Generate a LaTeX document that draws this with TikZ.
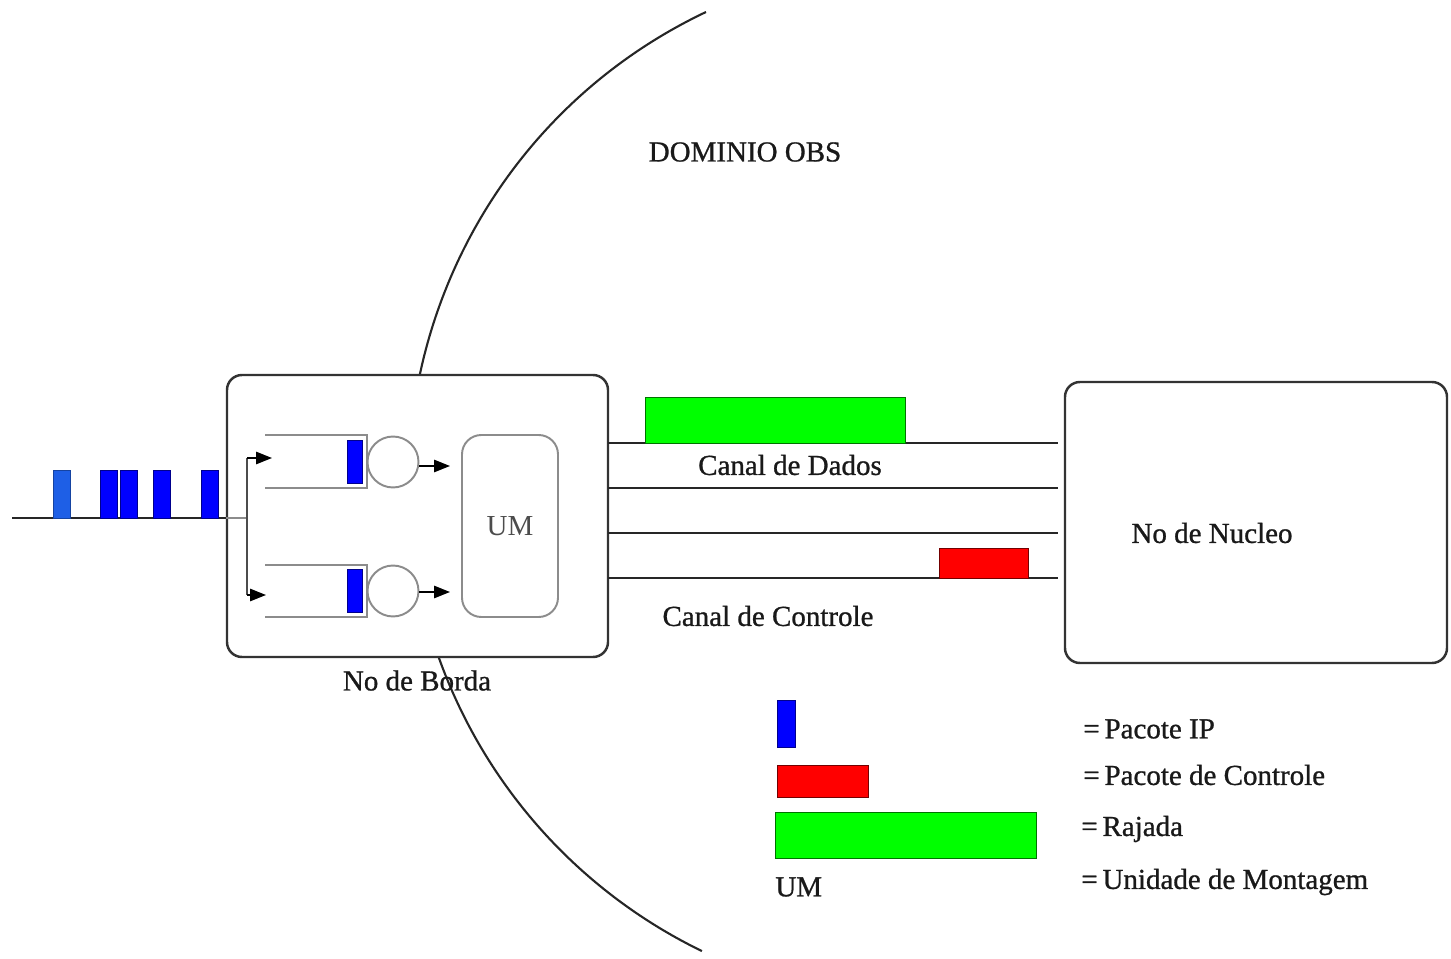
\documentclass[tikz,border=0pt]{standalone}
\usepackage{fontspec}
\setmainfont{Liberation Serif}
\newfontfamily\labelfont{Liberation Serif}[FakeBold=0.9]
\usetikzlibrary{arrows.meta,fit}

\definecolor{ipblue}{RGB}{0,0,255}
\definecolor{ipblue2}{RGB}{30,95,230}
\definecolor{burst}{RGB}{0,255,0}
\definecolor{ctrl}{RGB}{255,0,0}

\begin{document}
\begin{tikzpicture}[x=0.02cm,y=-0.02cm,
  lbl/.style={font=\labelfont\fontsize{16.5}{19}\selectfont, inner sep=0pt, text=black!90},
  nodebox/.style={draw=black!80, line width=1.4pt, rounded corners=8.5pt, fill=white, inner sep=0pt},
  umbox/.style={draw=black!45, line width=1.1pt, rounded corners=11pt, inner sep=0pt},
  chan/.style={draw=black!85, line width=1.4pt},
  qline/.style={draw=black!45, line width=1.1pt},
  ptr/.style={draw=black, line width=0.8pt, -{Triangle[length=9pt,width=7pt]}},
  ippkt/.style={draw=blue!55!black, fill=ipblue, line width=0.5pt, inner sep=0pt},
  burstpkt/.style={draw=green!45!black, fill=burst, line width=0.5pt, inner sep=0pt},
  ctrlpkt/.style={draw=red!45!black, fill=ctrl, line width=0.5pt, inner sep=0pt},
  server/.style={draw=black!45, line width=1.1pt, circle, minimum size=1.02cm, inner sep=0pt},
]
\useasboundingbox (0,0) rectangle (1451,959);

% boundary of the OBS domain
\draw[black!85, line width=1.2pt] (706,12) arc[start angle=115.4, end angle=244.1, radius=10.42cm];
\node[lbl] (dom) at (745,152) {DOMINIO OBS};

% incoming link with IP packets
\coordinate (in) at (12,518);
\node[nodebox, fit={(227,375) (608,657)}] (edge) {};
\draw[black!85, line width=1.4pt] (in) -- (edge.west |- in);
\node[ippkt, fill=ipblue2, draw=ipblue2!70!black, fit={(53,470) (70,518)}] (p1) {};
\node[ippkt, fit={(100,470) (117,518)}] (p2) {};
\node[ippkt, fit={(120,470) (137,518)}] (p3) {};
\node[ippkt, fit={(153,470) (170,518)}] (p4) {};
\node[ippkt, fit={(201,470) (218,518)}] (p5) {};

% splitter inside the edge node
\coordinate (sp) at (247,518);
\coordinate (spt) at (247,458);
\coordinate (spb) at (247,595);
\draw[qline] (edge.west |- sp) -- (sp);
\draw[black!70, line width=0.8pt] (spt) -- (spb);
\draw[ptr] (spt) -- (272,458);
\draw[ptr] (spb) -- (266,595);

% upper queue
\draw[qline] (265,435) -- (367,435) -- (367,488) -- (265,488);
\node[ippkt, fit={(347,440) (362,483)}] (q1) {};
\node[server] (s1) at (393,462) {};
% lower queue
\draw[qline] (265,565) -- (367,565) -- (367,617) -- (265,617);
\node[ippkt, fit={(347,569) (362,612)}] (q2) {};
\node[server] (s2) at (393,591) {};

% assembly unit
\node[umbox, fit={(462,435) (558,617)}] (um) {};
\node[inner sep=0pt, font=\fontsize{16.5}{19}\selectfont, text=black!70] (umt) at (um.center) {UM};
\draw[ptr] (s1.east |- 0,466) -- (450,466);
\draw[ptr] (s2.east |- 0,592) -- (450,592);

\node[lbl, anchor=north] (borda) at (417,670) {No de Borda};

% core node
\node[nodebox, fit={(1065,382) (1447,663)}] (core) {};
\node[lbl] (nuc) at (1212,533) {No de Nucleo};

% wavelength channels
\foreach \y [count=\i] in {443,488,533,578}{
  \coordinate (ca\i) at (608,\y);
  \coordinate (cb\i) at (1058,\y);
  \draw[chan] (ca\i) -- (cb\i);
}
\node[burstpkt, fit={(645,397) (905,443)}] (burst) {};
\node[ctrlpkt, fit={(939,548) (1028,578)}] (cpkt) {};
\node[lbl] (cdados) at (790,465) {Canal de Dados};
\node[lbl] (cctrl) at (768,616) {Canal de Controle};

% legend
\node[ippkt, fit={(777,700) (795,747)}] (lg1) {};
\node[ctrlpkt, fit={(777,765) (868,797)}] (lg2) {};
\node[burstpkt, fit={(775,812) (1036,858)}] (lg3) {};
\node[lbl, anchor=west] (lg4) at (775,887) {UM};
\node[lbl, anchor=west] (t1) at (1083,729) {=\,Pacote IP};
\node[lbl, anchor=west] (t2) at (1083,775) {=\,Pacote de Controle};
\node[lbl, anchor=west] (t3) at (1081,829) {=\,Rajada};
\node[lbl, anchor=west] (t4) at (1081,882) {=\,Unidade de Montagem};
\end{tikzpicture}
\end{document}
